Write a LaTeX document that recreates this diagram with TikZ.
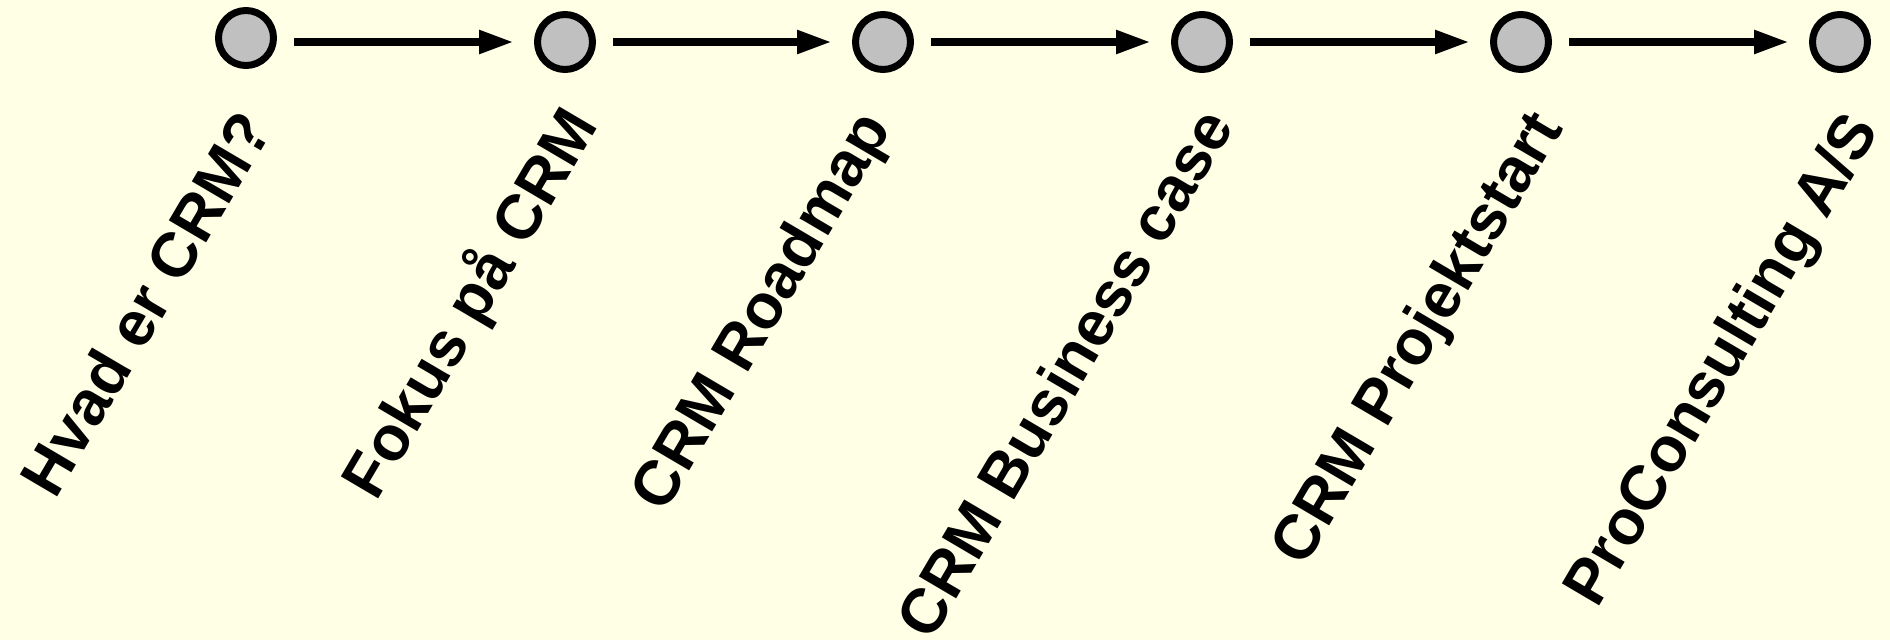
\documentclass[tikz,border=0pt]{standalone}
\usepackage{fontspec}
\setmainfont{Liberation Sans}
\usetikzlibrary{arrows.meta}
\definecolor{paper}{RGB}{255,255,230}
\definecolor{dotgray}{RGB}{192,192,192}
\begin{document}
\begin{tikzpicture}[x=1pt,y=-1pt,
  milestone/.style={circle,draw=black,line width=7pt,fill=dotgray,
    minimum size=55pt,inner sep=0pt},
  conn/.style={line width=8pt,-{Triangle[length=35pt,width=22pt]},
    shorten <=17pt,shorten >=20pt},
  steplabel/.style={rotate=59.5,anchor=base east,inner sep=0pt,
    font=\fontsize{63}{71}\selectfont\bfseries}]
% background and page size
\fill[paper] (0,0) rectangle (1890,640);
\useasboundingbox (0,0) rectangle (1890,640);

% milestones along the timeline
\node[milestone] (c1) at (246,38) {};
\node[milestone] (c2) at (565,42) {};
\node[milestone] (c3) at (883,42) {};
\node[milestone] (c4) at (1202,42) {};
\node[milestone] (c5) at (1521,42) {};
\node[milestone] (c6) at (1840,42) {};

% connecting arrows
\draw[conn] (c1.east |- c2.west) -- (c2.west);
\draw[conn] (c2.east) -- (c3.west);
\draw[conn] (c3.east) -- (c4.west);
\draw[conn] (c4.east) -- (c5.west);
\draw[conn] (c5.east) -- (c6.west);

% slanted step labels
\node[steplabel] (t1) at (274,129) {Hvad er CRM?};
\node[steplabel] (t2) at (599,125) {Fokus på CRM};
\node[steplabel] (t3) at (892,128) {CRM Roadmap};
\node[steplabel] (t4) at (1235,126) {CRM Business case};
\node[steplabel] (t5) at (1564,128) {CRM Projektstart};
\node[steplabel] (t6) at (1880,130) {ProConsulting A/S};
\end{tikzpicture}
\end{document}
